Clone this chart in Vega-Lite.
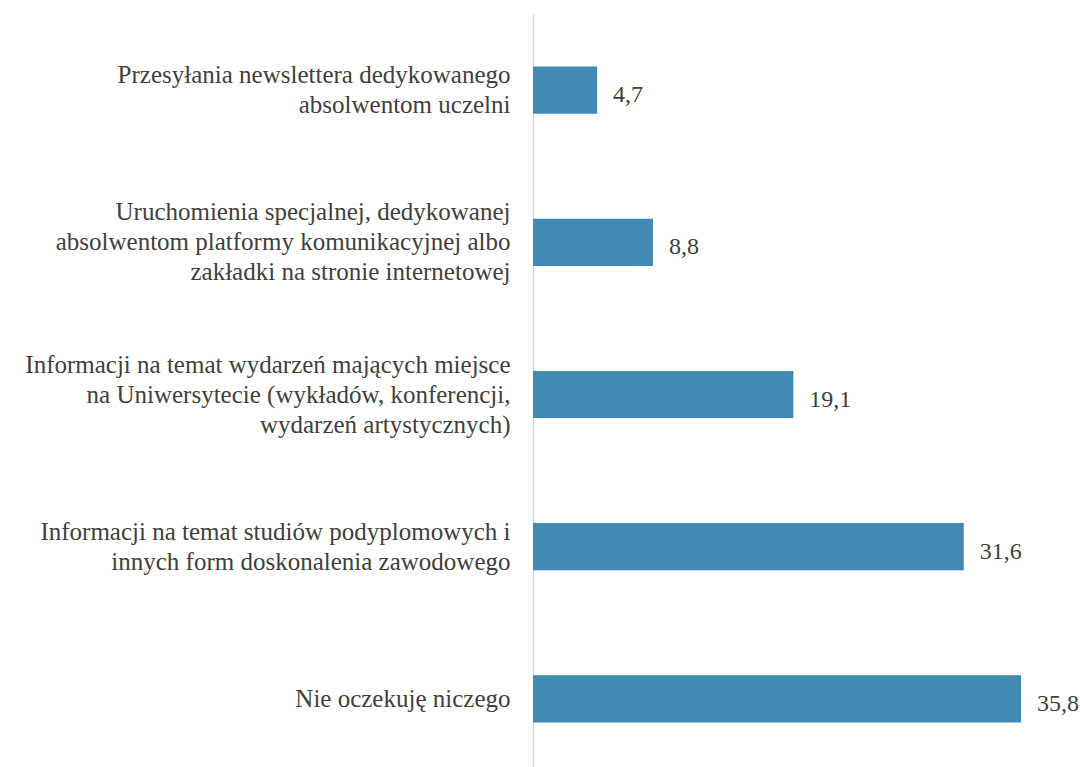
{
  "$schema": "https://vega.github.io/schema/vega-lite/v6.json",
  "width": 518,
  "height": 761,
  "padding": {"left": 533, "top": 14, "right": 29, "bottom": 0},
  "autosize": {"type": "none"},
  "background": "white",
  "config": {
    "view": {"stroke": null},
    "locale": {"number": {"decimal": ",", "thousands": " ", "grouping": [3], "currency": ["", " zł"]}}
  },
  "data": {
    "values": [
      {"kategoria": "Przesyłania newslettera dedykowanego|absolwentom uczelni", "wartosc": 4.7},
      {"kategoria": "Uruchomienia specjalnej, dedykowanej|absolwentom platformy komunikacyjnej albo|zakładki na stronie internetowej", "wartosc": 8.8},
      {"kategoria": "Informacji na temat wydarzeń mających miejsce|na Uniwersytecie (wykładów, konferencji,|wydarzeń artystycznych)", "wartosc": 19.1},
      {"kategoria": "Informacji na temat studiów podyplomowych i|innych form doskonalenia zawodowego", "wartosc": 31.6},
      {"kategoria": "Nie oczekuję niczego", "wartosc": 35.8}
    ]
  },
  "encoding": {
    "y": {
      "field": "kategoria",
      "type": "nominal",
      "sort": null,
      "scale": {"paddingInner": 0.69, "paddingOuter": 0.345},
      "axis": {
        "title": null,
        "ticks": false,
        "domainColor": "#d9d9d9",
        "domainWidth": 1.5,
        "labelExpr": "split(datum.label, '|')",
        "labelFont": "'Liberation Serif', serif",
        "labelFontSize": 25,
        "labelColor": "#404040",
        "labelLineHeight": 30,
        "labelPadding": 23,
        "labelLimit": 600,
        "labelOffset": {
          "condition": [
            {"test": "length(split(datum.value, '|')) == 3", "value": -30},
            {"test": "length(split(datum.value, '|')) == 2", "value": -15}
          ],
          "value": 0
        }
      }
    },
    "x": {
      "field": "wartosc",
      "type": "quantitative",
      "scale": {"domain": [0, 38], "nice": false},
      "axis": null
    }
  },
  "layer": [
    {"mark": {"type": "bar", "color": "#418ab3"}},
    {
      "mark": {"type": "text", "align": "left", "dx": 16, "dy": 5, "font": "'Liberation Serif', serif", "fontSize": 24, "color": "#404040"},
      "encoding": {"text": {"field": "wartosc", "type": "quantitative", "format": ".1f"}}
    }
  ]
}
